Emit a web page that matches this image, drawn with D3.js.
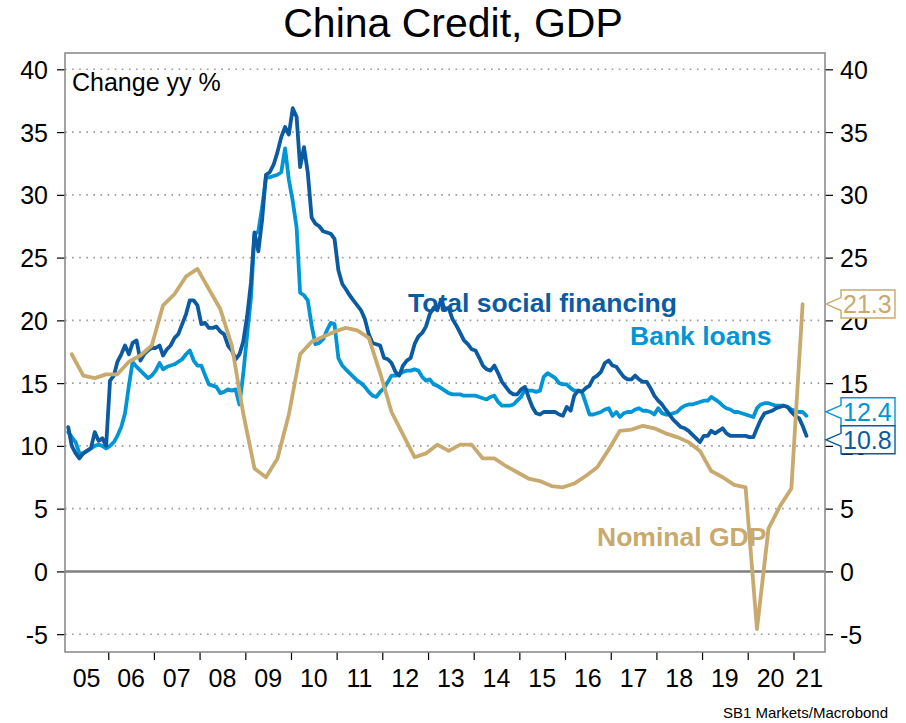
<!DOCTYPE html>
<html>
<head>
<meta charset="utf-8">
<script src="https://cdn.jsdelivr.net/npm/d3@7"></script>
<style>
  html, body { margin: 0; padding: 0; background: #fff; }
  svg { display: block; font-family: "Liberation Sans", Arial, Helvetica, sans-serif; }
</style>
</head>
<body>
<svg id="chart" width="906" height="723"></svg>
<script>
// ---- Data -------------------------------------------------------------
// Total social financing, % y/y, monthly, first observation Feb 2005
const tsfStart = [2005, 2];
const tsf = [
  11.5, 10.0, 9.4, 9.0, 9.4, 9.6, 9.8, 11.1, 10.4, 10.6, 10.0,
  15.2, 15.6, 16.7, 17.3, 18.0, 17.3, 18.2, 18.4, 16.8, 17.3, 17.6, 17.8,
  17.8, 18.0, 17.2, 17.7, 18.0, 18.6, 18.9, 19.7, 20.5, 21.6, 21.6, 21.2,
  19.7, 19.8, 19.4, 19.4, 19.5, 19.1, 18.9, 18.0, 17.6, 16.9, 17.3, 18.3,
  20.3, 23.0, 27.0, 25.5, 28.0, 31.6, 31.8, 32.4, 33.4, 34.6, 35.4, 34.8,
  36.9, 36.2, 32.2, 33.8, 31.8, 28.2, 27.7, 27.5, 27.1, 27.0, 26.9, 26.5,
  24.0, 22.9, 22.5, 22.0, 21.6, 21.2, 20.8, 20.1, 18.9, 18.2, 18.1, 18.0,
  17.0, 16.9, 16.6, 15.9, 15.6, 16.4, 16.8, 17.0, 18.1, 18.7, 19.0, 19.5,
  20.5, 21.0, 20.8, 21.6, 20.9, 21.0, 20.1, 19.6, 19.0, 18.4, 18.1, 17.7,
  17.6, 17.0, 16.4, 16.1, 16.0, 16.4, 15.8, 15.1, 14.7, 14.3, 14.1, 14.1,
  14.5, 14.7, 13.9, 13.1, 12.6, 12.5, 12.7, 12.7, 12.7, 12.7, 12.5, 12.4,
  13.1, 12.8, 14.0, 14.4, 14.3, 14.6, 14.8, 15.4, 15.6, 15.9, 16.6, 16.8,
  16.4, 16.3, 15.9, 15.5, 15.3, 15.3, 15.6, 15.3, 15.1, 15.1, 14.6, 14.0,
  13.6, 13.3, 12.9, 12.5, 12.1, 11.8, 11.5, 11.4, 11.2, 10.9, 10.6, 10.3,
  10.8, 10.8, 11.2, 11.0, 11.2, 11.4, 11.0, 10.8, 10.8, 10.8, 10.8, 10.8,
  10.7, 10.7, 11.4, 12.1, 12.6, 12.7, 12.8, 13.0, 13.1, 13.2, 13.1, 12.7,
  12.4, 12.2, 11.6, 10.8
];

// Bank loans, % y/y, monthly, first observation Feb 2005
const bankLoansStart = [2005, 2];
const bankLoans = [
  11.1, 10.7, 10.3, 9.4, 9.4, 9.6, 9.8, 10.0, 10.1, 10.0, 9.8,
  10.0, 10.3, 10.8, 11.5, 12.6, 14.8, 16.7, 16.3, 16.0, 15.7, 15.4, 15.6,
  16.0, 16.6, 16.1, 16.3, 16.4, 16.5, 16.7, 16.9, 17.3, 17.6, 16.8, 16.4,
  16.4, 15.6, 14.9, 14.8, 14.7, 14.2, 14.3, 14.5, 14.4, 14.5, 13.3, 15.7,
  18.8, 21.8, 26.8, 27.1, 29.0, 31.4, 31.4, 31.5, 31.6, 31.8, 33.7, 31.2,
  29.5, 27.4, 22.2, 22.0, 21.6, 19.6, 18.1, 18.2, 18.5, 19.2, 19.8, 19.7,
  17.0, 16.4, 16.1, 15.8, 15.5, 15.2, 15.0, 14.7, 14.3, 14.0, 13.9, 14.3,
  14.6, 15.1, 15.6, 15.6, 15.7, 15.9, 16.0, 16.0, 16.1, 16.0, 15.5, 15.2,
  15.3, 14.9, 14.8, 14.6, 14.4, 14.2, 14.1, 14.1, 14.1, 14.0, 14.0, 14.0,
  14.0, 13.9, 13.8, 13.7, 13.9, 14.0, 13.5, 13.2, 13.2, 13.2, 13.3, 13.6,
  13.9, 14.5, 14.4, 14.4, 14.3, 14.4, 15.5, 15.8, 15.6, 15.4, 15.0, 14.9,
  14.9, 14.6, 14.4, 14.4, 14.3, 13.4, 12.5, 12.5, 12.6, 12.7, 12.9, 13.0,
  12.4, 12.7, 12.3, 12.6, 12.7, 12.7, 12.9, 13.0, 12.8, 12.8, 12.7, 12.5,
  13.0, 12.6, 12.5, 12.5, 12.6, 12.7, 13.0, 13.2, 13.3, 13.3, 13.4, 13.5,
  13.6, 13.6, 13.9, 13.7, 13.5, 13.2, 13.0, 12.9, 12.7, 12.7, 12.6, 12.5,
  12.4, 12.3, 13.0, 13.3, 13.4, 13.4, 13.3, 13.2, 13.2, 13.2, 13.1, 12.9,
  12.8, 12.7, 12.7, 12.4
];

// Nominal GDP, % y/y, quarterly, first observation 2005 Q1
const gdpStart = [2005, 1];
const nominalGdp = [
  17.3, 15.6, 15.4, 15.7,
  15.7, 16.7, 17.2, 18.0,
  21.2, 22.1, 23.5, 24.1,
  22.5, 20.9, 18.0, 12.6,
  8.2, 7.5, 9.0, 12.5,
  17.3, 18.3, 18.7, 19.1,
  19.4, 19.2, 18.6, 15.8,
  12.7, 10.9, 9.1, 9.4,
  10.1, 9.6, 10.1, 10.1,
  9.0, 9.0, 8.4, 7.9,
  7.4, 7.2, 6.8, 6.7,
  7.0, 7.6, 8.3, 9.7,
  11.2, 11.3, 11.6, 11.4,
  11.0, 10.7, 10.3, 9.6,
  8.0, 7.5, 6.9, 6.7,
  -4.6, 3.4, 5.2, 6.6,
  21.3
];

const yTicks = [-5, 0, 5, 10, 15, 20, 25, 30, 35, 40];
const years = d3.range(2005, 2022);

// ---- Styling ------------------------------------------------------------
const colors = { tsf: "#0b5ba3", loans: "#0096d6", gdp: "#c8aa6e" };

const svg = d3.select("#chart");
const W = 906, H = 723;
const plot = { left: 65, right: 825, top: 53, bottom: 652 };

// ---- Scales ---------------------------------------------------------------
const x = d3.scaleTime()
  .domain([new Date(2005, 0, 20), new Date(2021, 8, 10)])
  .range([plot.left, plot.right]);
const y = d3.scaleLinear()
  .domain([-6.42, 41.3])
  .range([plot.bottom, plot.top]);

// Series builders: mid-month dates for monthly data, last month of quarter for quarterly
function monthly(start, values) {
  return values.map((v, i) => ({ date: new Date(start[0], start[1] - 1 + i, 15), value: v }));
}
function quarterly(start, values) {
  return values.map((v, i) => ({ date: new Date(start[0], (start[1] - 1 + i) * 3 + 2, 15), value: v }));
}
const tsfData = monthly(tsfStart, tsf);
const loansData = monthly(bankLoansStart, bankLoans);
const gdpData = quarterly(gdpStart, nominalGdp);

// ---- Title ----------------------------------------------------------------
svg.append("text")
  .attr("x", W / 2).attr("y", 37)
  .attr("text-anchor", "middle")
  .attr("font-size", 41)
  .attr("fill", "#000")
  .text("China Credit, GDP");

// ---- Gridlines ------------------------------------------------------------
svg.append("g").selectAll("line")
  .data(yTicks.filter(d => d !== 0))
  .join("line")
  .attr("x1", plot.left).attr("x2", plot.right)
  .attr("y1", d => y(d)).attr("y2", d => y(d))
  .attr("stroke", "#9a9a9a")
  .attr("stroke-width", 1.6)
  .attr("stroke-dasharray", "1.6,5.5");

// Zero line
svg.append("line")
  .attr("x1", plot.left).attr("x2", plot.right)
  .attr("y1", y(0)).attr("y2", y(0))
  .attr("stroke", "#7f7f7f")
  .attr("stroke-width", 2.5);

// ---- Axes -----------------------------------------------------------------
const tickFont = 25;
const plainNumber = d => String(d);
const leftAxis = svg.append("g")
  .attr("transform", `translate(${plot.left},0)`)
  .call(d3.axisLeft(y).tickValues(yTicks).tickSize(8).tickPadding(9).tickFormat(plainNumber));
const rightAxis = svg.append("g")
  .attr("transform", `translate(${plot.right},0)`)
  .call(d3.axisRight(y).tickValues(yTicks).tickSize(8).tickPadding(7).tickFormat(plainNumber));
[leftAxis, rightAxis].forEach(g => {
  g.select(".domain").remove();
  g.selectAll(".tick line").attr("stroke", "#000").attr("stroke-width", 1.2);
  g.selectAll(".tick text")
    .attr("font-size", tickFont)
    .attr("font-family", "Liberation Sans, Arial, sans-serif")
    .attr("fill", "#000")
    .attr("dy", "0.36em");
});

// Year boundary ticks
const yearStarts = years.map(yr => new Date(yr, 0, 1))
  .filter(d => x(d) > plot.left && x(d) < plot.right);
const bottomAxis = svg.append("g")
  .attr("transform", `translate(0,${plot.bottom})`)
  .call(d3.axisBottom(x).tickValues(yearStarts).tickSize(8).tickFormat(""));
bottomAxis.select(".domain").remove();
bottomAxis.selectAll(".tick line").attr("stroke", "#000").attr("stroke-width", 1.2);

// Year labels centred on the visible part of each year
svg.append("g").selectAll("text")
  .data(years)
  .join("text")
  .attr("x", yr => {
    const a = Math.max(x(new Date(yr, 0, 1)), plot.left);
    const b = Math.min(x(new Date(yr + 1, 0, 1)), plot.right);
    return (a + b) / 2;
  })
  .attr("y", 687)
  .attr("text-anchor", "middle")
  .attr("font-size", tickFont)
  .attr("fill", "#000")
  .text(yr => String(yr).slice(2));

// ---- Lines ----------------------------------------------------------------
svg.append("clipPath").attr("id", "plot-clip")
  .append("rect")
  .attr("x", plot.left).attr("y", plot.top)
  .attr("width", plot.right - plot.left).attr("height", plot.bottom - plot.top);

const line = d3.line().x(d => x(d.date)).y(d => y(d.value));
const lines = svg.append("g").attr("clip-path", "url(#plot-clip)");
[[loansData, colors.loans], [tsfData, colors.tsf], [gdpData, colors.gdp]].forEach(([data, c]) => {
  lines.append("path")
    .datum(data)
    .attr("d", line)
    .attr("fill", "none")
    .attr("stroke", c)
    .attr("stroke-width", 3.8)
    .attr("stroke-linejoin", "round")
    .attr("stroke-linecap", "round");
});

// ---- Frame ----------------------------------------------------------------
svg.append("rect")
  .attr("x", plot.left).attr("y", plot.top)
  .attr("width", plot.right - plot.left).attr("height", plot.bottom - plot.top)
  .attr("fill", "none")
  .attr("stroke", "#8c8c8c")
  .attr("stroke-width", 1.6);

// ---- Annotations ------------------------------------------------------------
svg.append("text")
  .attr("x", 72).attr("y", 91)
  .attr("font-size", 25)
  .attr("fill", "#000")
  .text("Change yy %");

const seriesLabels = [
  { text: "Total social financing", x: 408, y: 312, color: colors.tsf },
  { text: "Bank loans", x: 630, y: 345, color: colors.loans },
  { text: "Nominal GDP", x: 597, y: 546, color: colors.gdp }
];
svg.append("g").selectAll("text")
  .data(seriesLabels)
  .join("text")
  .attr("x", d => d.x).attr("y", d => d.y)
  .attr("font-size", 26.5)
  .attr("font-weight", "bold")
  .attr("fill", d => d.color)
  .text(d => d.text);

// Last-value tags on the right axis
const tags = [
  { value: nominalGdp[nominalGdp.length - 1], color: colors.gdp },
  { value: bankLoans[bankLoans.length - 1], color: colors.loans },
  { value: tsf[tsf.length - 1], color: colors.tsf }
];
const tagH = 28, tagLeft = plot.right + 16, tagW = 54, notch = 6.5;
tags.forEach(t => { t.cy = y(t.value); });
tags.sort((a, b) => a.cy - b.cy);
for (let iter = 0; iter < 50; iter++) {
  for (let i = 1; i < tags.length; i++) {
    const overlap = tags[i - 1].cy + tagH - tags[i].cy;
    if (overlap > 0) {
      tags[i - 1].cy -= overlap / 2;
      tags[i].cy += overlap / 2;
    }
  }
}
const tagG = svg.append("g").selectAll("g").data(tags).join("g");
tagG.append("path")
  .attr("d", t => {
    const top = t.cy - tagH / 2, bot = t.cy + tagH / 2;
    return `M${tagLeft},${top}H${tagLeft + tagW}V${bot}H${tagLeft}V${t.cy + notch}` +
           `L${plot.right + 1},${t.cy}L${tagLeft},${t.cy - notch}Z`;
  })
  .attr("fill", "#fff")
  .attr("stroke", t => t.color)
  .attr("stroke-width", 1.4);
tagG.append("text")
  .attr("x", tagLeft + 2)
  .attr("y", t => t.cy)
  .attr("dy", "0.36em")
  .attr("font-size", 25)
  .attr("fill", t => t.color)
  .text(t => d3.format(".1f")(t.value));

// Source
svg.append("text")
  .attr("x", 888).attr("y", 718)
  .attr("text-anchor", "end")
  .attr("font-size", 15)
  .attr("fill", "#000")
  .text("SB1 Markets/Macrobond");
</script>
</body>
</html>
